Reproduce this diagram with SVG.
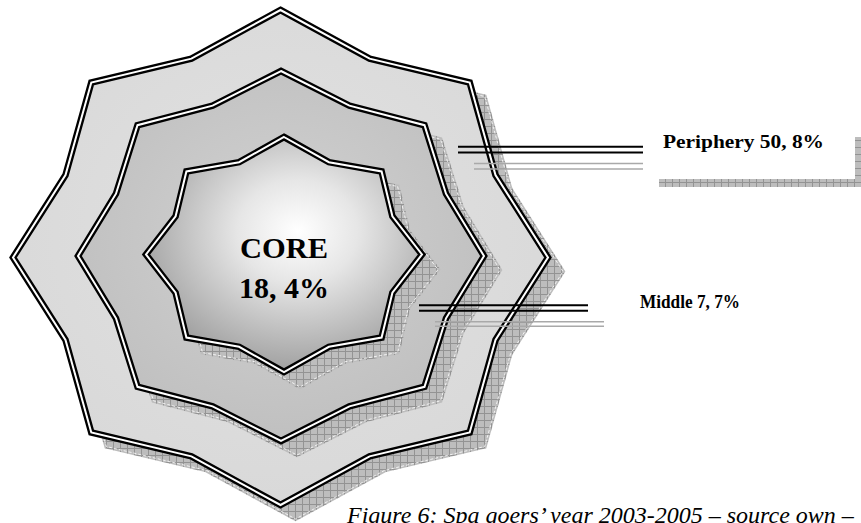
<svg xmlns="http://www.w3.org/2000/svg" xmlns:xlink="http://www.w3.org/1999/xlink" width="861" height="523" viewBox="0 0 861 523">
  <style>
    .shadow { fill: url(#hatch); stroke: url(#hatch); stroke-width: 4; stroke-linejoin: miter; }
    .shadow-edge { fill: none; stroke: #ffffff; stroke-width: 0.8; stroke-dasharray: 3 2; }
    .dbl-out { fill: none; stroke: #000000; stroke-width: 6.6; stroke-linejoin: miter; }
    .dbl-in { fill: none; stroke: #ffffff; stroke-width: 2; stroke-linejoin: miter; }
    .conn { stroke: #000000; stroke-width: 2; }
    .conn-sh { stroke: #a9a9a9; stroke-width: 1.6; }
    .lbl { font-family: "Liberation Serif", "Times New Roman", serif; font-weight: bold; fill: #000; }
    .cap { font-family: "Liberation Serif", "Times New Roman", serif; font-style: italic; font-size: 24px; fill: #000; }
  </style>
  <defs>
    <pattern id="hatch" patternUnits="userSpaceOnUse" width="7" height="7">
      <rect width="7" height="7" fill="#bdbdbd"/>
      <path d="M0 0.5H7M0.5 0V7" stroke="#939393" stroke-width="1"/>
    </pattern>
    <radialGradient id="gOuter" cx="0.5" cy="0.45" r="0.6">
      <stop offset="0" stop-color="#e2e2e2"/>
      <stop offset="1" stop-color="#d8d8d8"/>
    </radialGradient>
    <radialGradient id="gMid" cx="0.5" cy="0.45" r="0.6">
      <stop offset="0" stop-color="#d2d2d2"/>
      <stop offset="1" stop-color="#bebebe"/>
    </radialGradient>
    <radialGradient id="gCore" cx="0.55" cy="0.4" r="0.62">
      <stop offset="0" stop-color="#ffffff"/>
      <stop offset="0.35" stop-color="#e6e6e6"/>
      <stop offset="1" stop-color="#9c9c9c"/>
    </radialGradient>
    <polygon id="pOuter" points="280.5,10 369.6,58.6 469.7,82.5 495.5,175.1 548,257.5 495.5,339.9 469.7,432.5 369.6,456.4 280.5,505 191.4,456.4 91.3,432.5 65.5,339.9 13,257.5 65.5,175.1 91.3,82.5 191.4,58.6"/>
    <polygon id="pMid" points="281,71 349.4,105.6 424.5,125.2 446,193.7 484,256 446,318.3 424.5,386.8 349.4,406.4 281,441 212.6,406.4 137.5,386.8 116,318.3 78,256 116,193.7 137.5,125.2 212.6,105.6"/>
    <polygon id="pCore" points="284,137 328.9,162.2 381.6,171.4 392.4,216.3 422,254.5 392.4,292.7 381.6,337.6 328.9,346.8 284,372 239.1,346.8 186.4,337.6 175.6,292.7 146,254.5 175.6,216.3 186.4,171.4 239.1,162.2"/>
  </defs>

  <g id="node-outer">
    <use xlink:href="#pOuter" href="#pOuter" class="shadow" transform="translate(15,14)"/>
    <use xlink:href="#pOuter" href="#pOuter" class="shadow-edge" transform="translate(15,14)"/>
    <use xlink:href="#pOuter" href="#pOuter" fill="url(#gOuter)" stroke="none"/>
    <use xlink:href="#pOuter" href="#pOuter" class="dbl-out"/>
    <use xlink:href="#pOuter" href="#pOuter" class="dbl-in"/>
  </g>

  <g id="node-middle">
    <use xlink:href="#pMid" href="#pMid" class="shadow" transform="translate(16,14)"/>
    <use xlink:href="#pMid" href="#pMid" class="shadow-edge" transform="translate(16,14)"/>
    <use xlink:href="#pMid" href="#pMid" fill="url(#gMid)" stroke="none"/>
    <use xlink:href="#pMid" href="#pMid" class="dbl-out"/>
    <use xlink:href="#pMid" href="#pMid" class="dbl-in"/>
  </g>

  <g id="node-core">
    <use xlink:href="#pCore" href="#pCore" class="shadow" transform="translate(16,15)"/>
    <use xlink:href="#pCore" href="#pCore" class="shadow-edge" transform="translate(16,15)"/>
    <use xlink:href="#pCore" href="#pCore" fill="url(#gCore)" stroke="none"/>
    <use xlink:href="#pCore" href="#pCore" class="dbl-out"/>
    <use xlink:href="#pCore" href="#pCore" class="dbl-in"/>
    <text class="lbl" x="284" y="258" font-size="30" text-anchor="middle" textLength="88" lengthAdjust="spacingAndGlyphs">CORE</text>
    <text class="lbl" x="284" y="298" font-size="30" text-anchor="middle" textLength="90" lengthAdjust="spacingAndGlyphs">18, 4%</text>
  </g>

  <g id="connectors">
    <line class="conn-sh" x1="474" y1="163.5" x2="643" y2="163.5"/>
    <line class="conn-sh" x1="474" y1="169" x2="643" y2="169"/>
    <line class="conn" x1="458" y1="146.8" x2="643" y2="146.8"/>
    <line class="conn" x1="458" y1="152.5" x2="643" y2="152.5"/>
    <line class="conn-sh" x1="435" y1="321.7" x2="604" y2="321.7"/>
    <line class="conn-sh" x1="435" y1="326.3" x2="604" y2="326.3"/>
    <line class="conn" x1="419" y1="305.2" x2="588" y2="305.2"/>
    <line class="conn" x1="419" y1="310.8" x2="588" y2="310.8"/>
  </g>

  <g id="label-periphery">
    <path d="M855,137H861V187H659V179H855Z" fill="url(#hatch)"/>
    <text class="lbl" x="663" y="148" font-size="18" textLength="161" lengthAdjust="spacingAndGlyphs">Periphery 50, 8%</text>
  </g>

  <g id="label-middle">
    <text class="lbl" x="640" y="308" font-size="18" textLength="100" lengthAdjust="spacingAndGlyphs">Middle 7, 7%</text>
  </g>

  <g id="caption">
    <text class="cap" x="347" y="523">Figure 6: Spa goers’ year 2003-2005 – source own –</text>
  </g>
</svg>
